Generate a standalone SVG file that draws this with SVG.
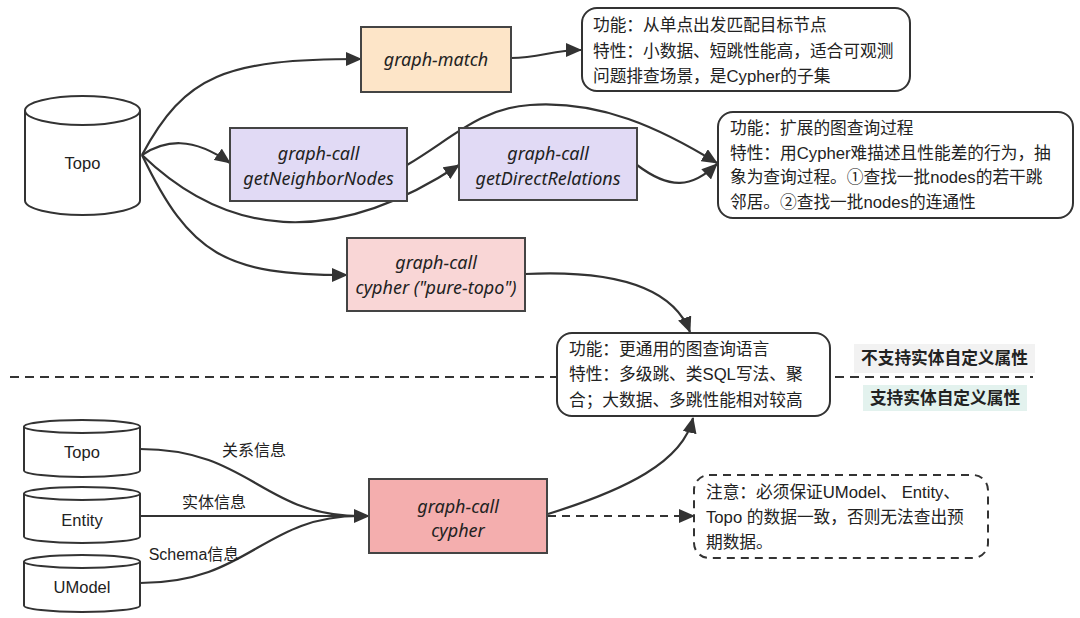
<svg xmlns="http://www.w3.org/2000/svg" width="1080" height="618" viewBox="0 0 1080 618">
<style>
.cyl{fill:#fff;stroke:#333;stroke-width:2}
.box{stroke:#444;stroke-width:2}
.note{fill:#fff;stroke:#333;stroke-width:2}
.lbl{font-family:"Noto Sans","DejaVu Sans",sans-serif;font-style:italic;font-size:18px;fill:#222;text-anchor:middle;dominant-baseline:central}
.cyt{font-family:"Liberation Sans","Noto Sans",sans-serif;font-size:16.5px;fill:#222;text-anchor:middle;dominant-baseline:central}
.nt{font-family:"Liberation Sans","Noto Sans CJK SC",sans-serif;font-size:16.7px;fill:#222;dominant-baseline:central}
.el{font-family:"Liberation Sans","Noto Sans CJK SC",sans-serif;font-size:16px;fill:#222;text-anchor:middle;dominant-baseline:central}
.tag{font-family:"Liberation Sans","Noto Sans CJK SC",sans-serif;font-size:16.7px;font-weight:bold;fill:#222;text-anchor:middle;dominant-baseline:central}
.e{fill:none;stroke:#333;stroke-width:2.2}
.ea{fill:none;stroke:#333;stroke-width:2.2;marker-end:url(#arr)}
.ed{fill:none;stroke:#333;stroke-width:2.2;stroke-dasharray:8 6;marker-end:url(#arr)}
</style>
<defs>
<marker id="arr" markerUnits="userSpaceOnUse" markerWidth="16" markerHeight="14" refX="15" refY="7" orient="auto">
<path d="M0,0 L16,7 L0,14 Z" fill="#333"/>
</marker>
</defs>
<rect width="1080" height="618" fill="#fff"/>

<!-- separator -->
<line x1="10" y1="377" x2="1033" y2="377" stroke="#333" stroke-width="2" stroke-dasharray="9 6"/>

<g id="connectors">
<path class="ea" d="M142 155 C 185 75, 225 59, 361 59"/>
<path class="ea" d="M142 155 C 165 140, 192 136, 230 163"/>
<path class="ea" d="M142 155 C 225 235, 330 250, 459 165"/>
<path class="ea" d="M142 155 C 190 255, 225 275, 347 275"/>
<path class="ea" d="M511 58 C 540 58, 552 50, 581 50"/>
<path class="ea" d="M407 165 C 450 140, 480 108, 530 105 C 600 100, 660 128, 717 163"/>
<path class="ea" d="M637 165 C 670 190, 692 188, 717 164"/>
<path class="ea" d="M525 274 C 610 270, 672 285, 690 332"/>
<path class="e" d="M140 449 C 250 449, 262 516, 360 516"/>
<path class="e" d="M140 583 C 250 583, 262 516, 360 516"/>
<path class="ea" d="M140 516 L 369 516"/>
<path class="ea" d="M548 514 C 625 490, 683 462, 693 418"/>
<path class="ed" d="M548 516 L 694 516"/>
</g>

<g id="topo-main">
<path class="cyl" d="M25 110.5 L25 200.5 A57.5 14.5 0 0 0 140 200.5 L140 110.5"/>
<ellipse class="cyl" cx="82.5" cy="110.5" rx="57.5" ry="14.5"/>
<text class="cyt" x="82.5" y="163">Topo</text>
</g>

<g id="graph-match">
<rect class="box" x="361" y="27" width="150" height="65" fill="#FDE5C8"/>
<text class="lbl" x="436" y="59">graph-match</text>
</g>

<g id="getNeighborNodes">
<rect class="box" x="230" y="128" width="177" height="73" fill="#E1DAF5"/>
<text class="lbl" x="318.5" y="153">graph-call</text>
<text class="lbl" x="318.5" y="178">getNeighborNodes</text>
</g>

<g id="getDirectRelations">
<rect class="box" x="459" y="128" width="178" height="72" fill="#E1DAF5"/>
<text class="lbl" x="548" y="153">graph-call</text>
<text class="lbl" x="548" y="178">getDirectRelations</text>
</g>

<g id="pure-topo">
<rect class="box" x="347" y="238" width="178" height="73" fill="#F9D6D6"/>
<text class="lbl" x="436" y="262">graph-call</text>
<text class="lbl" x="436" y="287">cypher ("pure-topo")</text>
</g>

<g id="note-match">
<rect class="note" x="582" y="8" width="328" height="83" rx="15"/>
<text class="nt" x="593" y="25">功能：从单点出发匹配目标节点</text>
<text class="nt" x="593" y="51">特性：小数据、短跳性能高，适合可观测</text>
<text class="nt" x="593" y="76">问题排查场景，是Cypher的子集</text>
</g>

<g id="note-call">
<rect class="note" x="718" y="112" width="355" height="106" rx="15"/>
<text class="nt" x="730" y="128">功能：扩展的图查询过程</text>
<text class="nt" x="730" y="153">特性：用Cypher难描述且性能差的行为，抽</text>
<text class="nt" x="730" y="177">象为查询过程。①查找一批nodes的若干跳</text>
<text class="nt" x="730" y="202">邻居。②查找一批nodes的连通性</text>
</g>

<g id="note-cypher">
<rect class="note" x="557" y="333" width="273" height="83" rx="15"/>
<text class="nt" x="569" y="349">功能：更通用的图查询语言</text>
<text class="nt" x="569" y="374">特性：多级跳、类SQL写法、聚</text>
<text class="nt" x="569" y="400">合；大数据、多跳性能相对较高</text>
</g>

<g id="tag-unsupported">
<rect x="854" y="344" width="181" height="29" fill="#F2F2F2"/>
<text class="tag" x="944.5" y="358.5">不支持实体自定义属性</text>
</g>
<g id="tag-supported">
<rect x="863" y="385" width="164" height="26" fill="#E3F2EE"/>
<text class="tag" x="945" y="398">支持实体自定义属性</text>
</g>

<g id="topo-2">
<path class="cyl" d="M24 426.5 L24 470.5 A58 6.5 0 0 0 140 470.5 L140 426.5"/>
<ellipse class="cyl" cx="82" cy="426.5" rx="58" ry="6.5"/>
<text class="cyt" x="82" y="452">Topo</text>
</g>
<g id="entity">
<path class="cyl" d="M24 493.5 L24 536.5 A58 6.5 0 0 0 140 536.5 L140 493.5"/>
<ellipse class="cyl" cx="82" cy="493.5" rx="58" ry="6.5"/>
<text class="cyt" x="82" y="520">Entity</text>
</g>
<g id="umodel">
<path class="cyl" d="M24 561.5 L24 605.5 A58 6.5 0 0 0 140 605.5 L140 561.5"/>
<ellipse class="cyl" cx="82" cy="561.5" rx="58" ry="6.5"/>
<text class="cyt" x="82" y="587">UModel</text>
</g>

<g id="edge-labels">
<text class="el" x="254" y="450">关系信息</text>
<text class="el" x="214" y="502">实体信息</text>
<text class="el" x="194" y="554">Schema信息</text>
</g>

<g id="cypher">
<rect class="box" x="369" y="479" width="178" height="74" fill="#F4AEAE"/>
<text class="lbl" x="458" y="506">graph-call</text>
<text class="lbl" x="458" y="530">cypher</text>
</g>

<g id="note-warning">
<rect x="694" y="475" width="294" height="83" rx="15" fill="#fff" stroke="#333" stroke-width="2" stroke-dasharray="8 6"/>
<text class="nt" x="706" y="492">注意：必须保证UModel、 Entity、</text>
<text class="nt" x="706" y="517">Topo 的数据一致，否则无法查出预</text>
<text class="nt" x="706" y="542">期数据。</text>
</g>
</svg>
